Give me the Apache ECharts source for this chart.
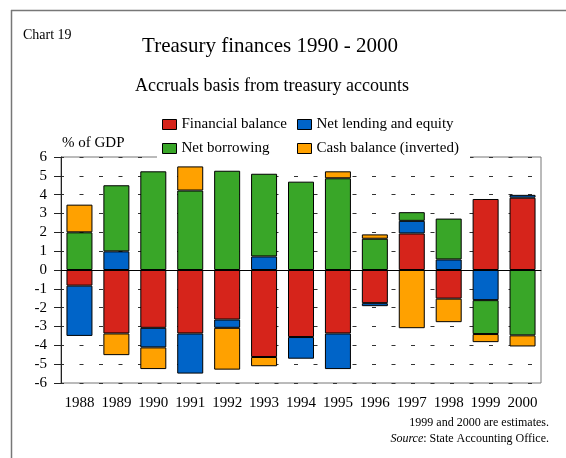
<!DOCTYPE html>
<html>
<head>
<meta charset="utf-8">
<script src="https://cdn.jsdelivr.net/npm/echarts@6/dist/echarts.min.js"></script>
<style>
  html, body { margin: 0; padding: 0; background: #fff; }
  #main { width: 566px; height: 458px; }
</style>
</head>
<body>
<div id="main"></div>
<script>
var years = ['1988', '1989', '1990', '1991', '1992', '1993', '1994', '1995', '1996', '1997', '1998', '1999', '2000'];
var financialBalance = [-0.83, -3.37, -3.07, -3.37, -2.63, -4.62, -3.56, -3.37, -1.76, 1.94, -1.52, 3.77, 3.84];
var netLending = [-2.67, 0.99, -1.04, -2.13, -0.44, 0.72, -1.15, -1.89, -0.16, 0.67, 0.56, -1.6, 0.15];
var netBorrowing = [2.0, 3.51, 5.24, 4.22, 5.27, 4.39, 4.69, 4.87, 1.66, 0.46, 2.17, -1.8, -3.47];
var cashBalance = [1.47, -1.15, -1.15, 1.28, -2.22, -0.49, null, 0.37, 0.23, -3.09, -1.25, -0.43, -0.59];

var FONT = '"Liberation Serif", "Times New Roman", serif';

var chart = echarts.init(document.getElementById('main'), null, { renderer: 'canvas' });

function bar(name, data, color) {
    return {
        name: name,
        type: 'bar',
        stack: 'all',
        data: data,
        barWidth: 26,
        itemStyle: { color: color, borderColor: '#000', borderWidth: 1 }
    };
}

var legendBase = {
    orient: 'vertical',
    top: 117,
    padding: 0,
    icon: 'rect',
    itemWidth: 14,
    itemHeight: 10,
    itemGap: 9,
    selectedMode: false,
    z: 100,
    itemStyle: { borderColor: '#000', borderWidth: 1 },
    textStyle: { fontFamily: FONT, fontSize: 15, lineHeight: 15, color: '#000' }
};

var series = [
    bar('Financial balance', financialBalance, '#d6241b'),
    bar('Net lending and equity', netLending, '#0064c8'),
    bar('Net borrowing', netBorrowing, '#39a628'),
    bar('Cash balance (inverted)', cashBalance, '#ffa100')
];
series[3].markLine = {
    silent: true,
    symbol: 'none',
    label: { show: false },
    lineStyle: { color: '#000', width: 1, type: 'solid' },
    data: [{ yAxis: 0 }]
};

var option = {
    backgroundColor: '#fff',
    animation: false,
    grid: {
        left: 61, right: 25, top: 157, bottom: 75,
        show: true, borderColor: '#777', borderWidth: 1, backgroundColor: 'transparent'
    },
    legend: [
        Object.assign({}, legendBase, { left: 162, data: ['Financial balance', 'Net borrowing'] }),
        Object.assign({}, legendBase, { left: 297, data: ['Net lending and equity', 'Cash balance (inverted)'] })
    ],
    xAxis: {
        type: 'category',
        data: years,
        axisLine: { lineStyle: { color: '#222', width: 1 } },
        axisTick: { alignWithLabel: true, length: 7, lineStyle: { color: '#222' } },
        axisLabel: { interval: 0, margin: 13, fontFamily: FONT, fontSize: 15, color: '#000' }
    },
    yAxis: {
        type: 'value',
        min: -6, max: 6, interval: 1,
        axisLine: { show: true, lineStyle: { color: '#222', width: 1 } },
        axisTick: { show: true, length: 7, lineStyle: { color: '#222' } },
        axisLabel: { margin: 14, fontFamily: FONT, fontSize: 15, color: '#000' },
        splitLine: { show: true, lineStyle: { color: '#333', width: 1, type: [4, 15.5], dashOffset: 1 } }
    },
    graphic: [
        { type: 'line', z: 50, shape: { x1: 11, y1: 10.5, x2: 566, y2: 10.5 }, style: { stroke: '#777', lineWidth: 1.5 } },
        { type: 'line', z: 50, shape: { x1: 11.5, y1: 10, x2: 11.5, y2: 458 }, style: { stroke: '#777', lineWidth: 1.5 } },
        { type: 'rect', z: 50, shape: { x: 157, y: 110, width: 313, height: 49 }, style: { fill: '#fff' } },
        { type: 'text', z: 50, x: 23, y: 35, style: { text: 'Chart 19', font: '14px ' + FONT, fill: '#000', textVerticalAlign: 'middle' } },
        { type: 'text', z: 50, x: 270, y: 46, style: { text: 'Treasury finances 1990 - 2000', font: '21px ' + FONT, fill: '#000', textAlign: 'center', textVerticalAlign: 'middle' } },
        { type: 'text', z: 50, x: 272, y: 86, style: { text: 'Accruals basis from treasury accounts', font: '18px ' + FONT, fill: '#000', textAlign: 'center', textVerticalAlign: 'middle' } },
        { type: 'text', z: 50, x: 62, y: 143, style: { text: '% of GDP', font: '15px ' + FONT, fill: '#000', textVerticalAlign: 'middle' } },
        { type: 'text', z: 50, x: 549, y: 423, style: { text: '1999 and 2000 are estimates.', font: '12px ' + FONT, fill: '#000', textAlign: 'right', textVerticalAlign: 'middle' } },
        { type: 'text', z: 50, x: 549, y: 439, style: {
            text: '{i|Source}: State Accounting Office.',
            font: '12px ' + FONT, fill: '#000', textAlign: 'right', textVerticalAlign: 'middle',
            rich: { i: { fontStyle: 'italic', fontFamily: FONT, fontSize: 12 } }
        } }
    ],
    series: series
};

chart.setOption(option);
</script>
</body>
</html>
